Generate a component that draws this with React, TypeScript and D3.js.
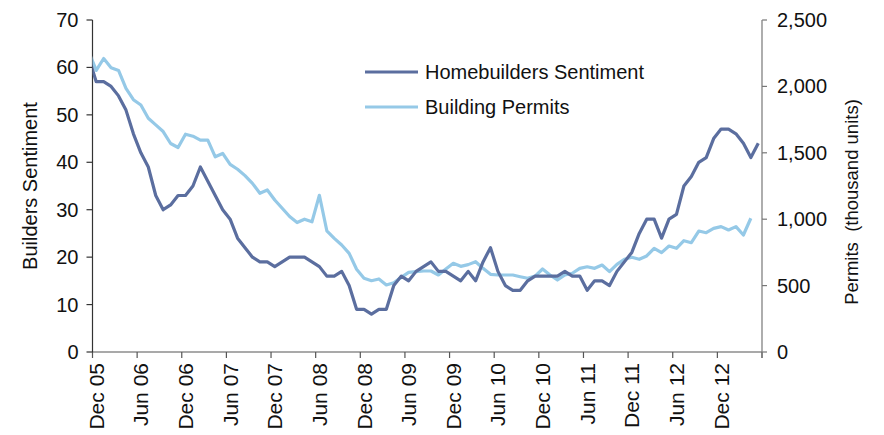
import React from 'react'
import * as d3 from 'd3'

// monthly, first value is Nov 05 (sits left of the axis and is clipped), then Dec 05 .. May 13
const sentiment = [62,
  57, 57, 56, 54, 51, 46, 42, 39, 33, 30, 31, 33, 33, 35, 39, 36, 33, 30, 28, 24,
  22, 20, 19, 19, 18, 19, 20, 20, 20, 19, 18, 16, 16, 17, 14, 9, 9, 8, 9, 9,
  14, 16, 15, 17, 18, 19, 17, 17, 16, 15, 17, 15, 19, 22, 17, 14, 13, 13, 15, 16,
  16, 16, 16, 17, 16, 16, 13, 15, 15, 14, 17, 19, 21, 25, 28, 28, 24, 28, 29, 35,
  37, 40, 41, 45, 47, 47, 46, 44, 41, 44]

// thousand units, Nov 05 .. Apr 13
const permits = [2260,
  2120, 2210, 2140, 2120, 1985, 1900, 1860, 1760, 1710, 1660, 1570, 1540, 1640, 1625, 1595, 1595, 1470, 1495, 1413, 1376,
  1328, 1270, 1195, 1220, 1145, 1082, 1020, 975, 1000, 980, 1180, 913, 856, 806, 743, 623, 555, 537, 550, 505,
  522, 562, 600, 605, 610, 610, 580, 625, 668, 645, 658, 680, 630, 585, 580, 580, 580, 567, 555, 572,
  625, 580, 542, 580, 593, 630, 642, 630, 655, 605, 660, 698, 713, 698, 723, 781, 748, 798, 781, 838,
  823, 911, 898, 931, 944, 919, 944, 881, 1007]

const tickLabels = ['Dec 05', 'Jun 06', 'Dec 06', 'Jun 07', 'Dec 07', 'Jun 08', 'Dec 08', 'Jun 09',
  'Dec 09', 'Jun 10', 'Dec 10', 'Jun 11', 'Dec 11', 'Jun 12', 'Dec 12']
const leftTicks = [0, 10, 20, 30, 40, 50, 60, 70]
const rightTicks = [0, 500, 1000, 1500, 2000, 2500]
const seriesNames = ['Homebuilders Sentiment', 'Building Permits']

const W = 884
const H = 435
const left = 92.5
const right = 762
const top = 20
const bottom = 352
const nSlots = 90
const font = '"Liberation Sans", Arial, sans-serif'
const darkBlue = '#5b6e9f'
const lightBlue = '#95c9e7'
const axisColor = '#555'

export default function App() {
  const x = d3.scaleLinear().domain([0, nSlots]).range([left, right])
  const yL = d3.scaleLinear().domain([0, 70]).range([bottom, top])
  const yR = d3.scaleLinear().domain([0, 2500]).range([bottom, top])
  // index 0 of the arrays is the month before the first slot
  const cx = (i: number) => x(i - 1 + 0.5)

  const sentLine = d3.line<number>().x((d, i) => cx(i)).y(d => yL(d))
  const permLine = d3.line<number>().x((d, i) => cx(i)).y(d => yR(d))

  const xTicks = d3.range(0, nSlots + 1, 6)

  return (
    <svg width={W} height={H} style={{ position: 'absolute', left: 0, top: 0, background: '#fff' }}
      fontFamily={font}>
      <defs>
        <clipPath id="plot">
          <rect x={left} y={0} width={right - left} height={H} />
        </clipPath>
      </defs>

      {/* x axis */}
      <line x1={left} x2={right} y1={bottom} y2={bottom} stroke={axisColor} strokeWidth={1.2} />
      {xTicks.map(t => (
        <line key={t} x1={x(t)} x2={x(t)} y1={bottom} y2={bottom + 6} stroke={axisColor} strokeWidth={1.2} />
      ))}
      {tickLabels.map((lab, i) => (
        <text key={lab} transform={`translate(${x(i * 6 + 0.5)},${bottom + 11}) rotate(-90)`}
          textAnchor="end" dominantBaseline="central" fontSize={21} fill="#111">{lab}</text>
      ))}

      {/* left axis */}
      <line x1={left} x2={left} y1={top} y2={bottom} stroke="#333" strokeWidth={1.2} />
      {leftTicks.map(t => (
        <g key={t}>
          <line x1={left - 6} x2={left} y1={yL(t)} y2={yL(t)} stroke="#333" strokeWidth={1.2} />
          <text x={left - 14} y={yL(t)} textAnchor="end" dominantBaseline="central" fontSize={20} fill="#111">
            {d3.format('d')(t)}
          </text>
        </g>
      ))}
      <text transform={`translate(30,${(top + bottom) / 2}) rotate(-90)`} textAnchor="middle"
        dominantBaseline="central" fontSize={20} fill="#111">Builders Sentiment</text>

      {/* right axis */}
      <line x1={right} x2={right} y1={top} y2={bottom + 6} stroke="#777" strokeWidth={1.2} />
      {rightTicks.map(t => (
        <g key={t}>
          <line x1={right} x2={right + 5} y1={yR(t)} y2={yR(t)} stroke="#777" strokeWidth={1.2} />
          <text x={right + 15} y={yR(t)} dominantBaseline="central" fontSize={20} fill="#111">
            {d3.format(',')(t)}
          </text>
        </g>
      ))}
      <text transform={`translate(851,202) rotate(-90)`} textAnchor="middle" dominantBaseline="central"
        fontSize={18.5} fill="#111" style={{ whiteSpace: 'pre' }}>Permits  (thousand units)</text>

      {/* series */}
      <g clipPath="url(#plot)">
        <path d={permLine(permits) || ''} fill="none" stroke={lightBlue} strokeWidth={3.2} strokeLinejoin="round" />
        <path d={sentLine(sentiment) || ''} fill="none" stroke={darkBlue} strokeWidth={3.2} strokeLinejoin="round" />
      </g>

      {/* legend */}
      {seriesNames.map((name, i) => (
        <g key={name} transform={`translate(365,${72 + i * 35})`}>
          <line x1={0} x2={53} y1={0} y2={0} stroke={i === 0 ? darkBlue : lightBlue} strokeWidth={3.2} />
          <text x={60} y={0} dominantBaseline="central" fontSize={20} fill="#111">{name}</text>
        </g>
      ))}
    </svg>
  )
}
